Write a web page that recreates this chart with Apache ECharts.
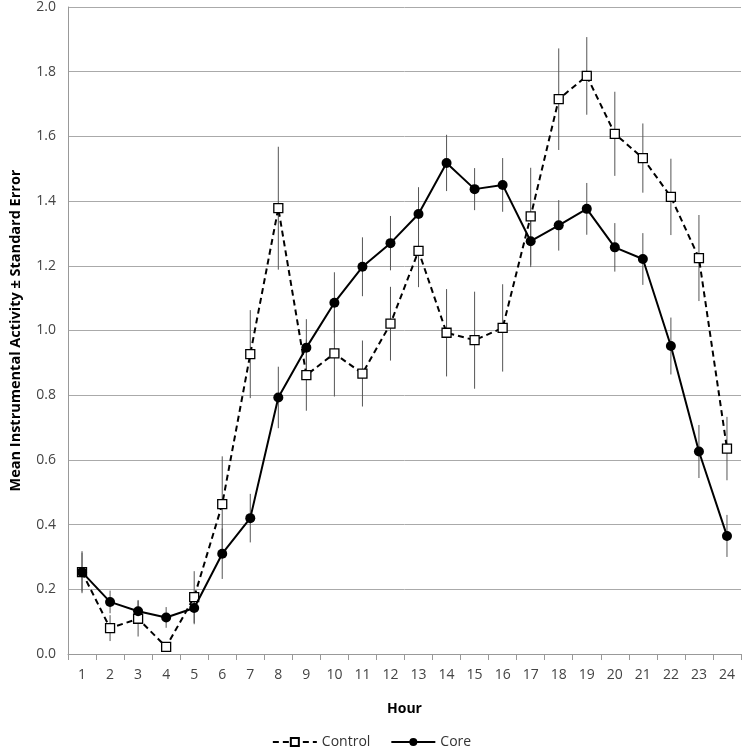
<!DOCTYPE html>
<html>
<head>
<meta charset="utf-8">
<script src="https://cdn.jsdelivr.net/npm/echarts@6/dist/echarts.min.js"></script>
<style>
  html, body { margin: 0; padding: 0; background: #fff; }
  #chart { width: 743px; height: 754px; }
</style>
</head>
<body>
<div id="chart"></div>
<script>
var hours = ['1','2','3','4','5','6','7','8','9','10','11','12','13','14','15','16','17','18','19','20','21','22','23','24'];

var controlMean = [0.253, 0.080, 0.109, 0.022, 0.176, 0.463, 0.927, 1.378, 0.862, 0.929, 0.867, 1.021, 1.246, 0.993, 0.970, 1.008, 1.353, 1.715, 1.787, 1.608, 1.533, 1.413, 1.224, 0.635];
var controlSE   = [0.065, 0.040, 0.055, 0.012, 0.080, 0.148, 0.136, 0.190, 0.110, 0.133, 0.102, 0.114, 0.112, 0.135, 0.150, 0.135, 0.150, 0.157, 0.120, 0.130, 0.107, 0.118, 0.133, 0.098];

var coreMean = [0.253, 0.161, 0.132, 0.113, 0.142, 0.310, 0.420, 0.793, 0.947, 1.086, 1.197, 1.270, 1.360, 1.518, 1.437, 1.450, 1.276, 1.325, 1.376, 1.257, 1.221, 0.952, 0.626, 0.365];
var coreSE   = [0.060, 0.035, 0.035, 0.032, 0.050, 0.078, 0.075, 0.095, 0.088, 0.094, 0.091, 0.084, 0.083, 0.087, 0.065, 0.083, 0.080, 0.078, 0.080, 0.075, 0.080, 0.088, 0.082, 0.065];

function errData(mean, se) {
    return mean.map(function (m, i) { return [i, m - se[i], m + se[i]]; });
}

function renderErr(params, api) {
    var lo = api.coord([api.value(0), api.value(1)]);
    var hi = api.coord([api.value(0), api.value(2)]);
    return {
        type: 'line',
        shape: { x1: lo[0], y1: lo[1], x2: hi[0], y2: hi[1] },
        style: { stroke: '#555', lineWidth: 1 }
    };
}

var textFont = 'Open Sans';
var myChart = echarts.init(document.getElementById('chart'));

myChart.setOption({
    animation: false,
    grid: { left: 59, right: 2, top: 7, bottom: 100 },
    legend: {
        bottom: 0,
        itemWidth: 44,
        itemHeight: 10,
        itemGap: 20,
        textStyle: { fontFamily: textFont, fontSize: 14, color: '#333' },
        data: ['Control', 'Core']
    },
    xAxis: {
        type: 'category',
        data: hours,
        name: 'Hour',
        nameLocation: 'middle',
        nameGap: 48,
        nameTextStyle: { fontFamily: textFont, fontWeight: 'bold', fontSize: 14, color: '#000' },
        axisLine: { lineStyle: { color: '#999' } },
        axisTick: { show: true, length: 6, lineStyle: { color: '#999' } },
        axisLabel: { fontFamily: textFont, fontSize: 14, color: '#444', margin: 14 }
    },
    yAxis: {
        type: 'value',
        min: 0,
        max: 2,
        interval: 0.2,
        name: 'Mean Instrumental Activity \u00b1 Standard Error',
        nameLocation: 'middle',
        nameGap: 45,
        nameTextStyle: { fontFamily: textFont, fontWeight: 'bold', fontSize: 14.5, color: '#000' },
        axisLine: { show: true, lineStyle: { color: '#999' } },
        axisTick: { show: false },
        splitLine: { lineStyle: { color: '#aaa' } },
        axisLabel: {
            fontFamily: textFont, fontSize: 14, color: '#444', margin: 12,
            formatter: function (v) { return v.toFixed(1); }
        }
    },
    series: [
        {
            type: 'custom',
            renderItem: renderErr,
            data: errData(controlMean, controlSE),
            encode: { x: 0, y: [1, 2] },
            z: 1,
            silent: true
        },
        {
            type: 'custom',
            renderItem: renderErr,
            data: errData(coreMean, coreSE),
            encode: { x: 0, y: [1, 2] },
            z: 1,
            silent: true
        },
        {
            name: 'Control',
            type: 'line',
            data: controlMean,
            z: 3,
            symbol: 'rect',
            symbolSize: 9,
            lineStyle: { color: '#000', width: 2, type: [6, 4] },
            itemStyle: { color: '#fff', borderColor: '#000', borderWidth: 1.3 }
        },
        {
            name: 'Core',
            type: 'line',
            data: coreMean,
            z: 4,
            symbol: 'circle',
            symbolSize: 10,
            lineStyle: { color: '#000', width: 2 },
            itemStyle: { color: '#000' }
        }
    ]
});
</script>
</body>
</html>
